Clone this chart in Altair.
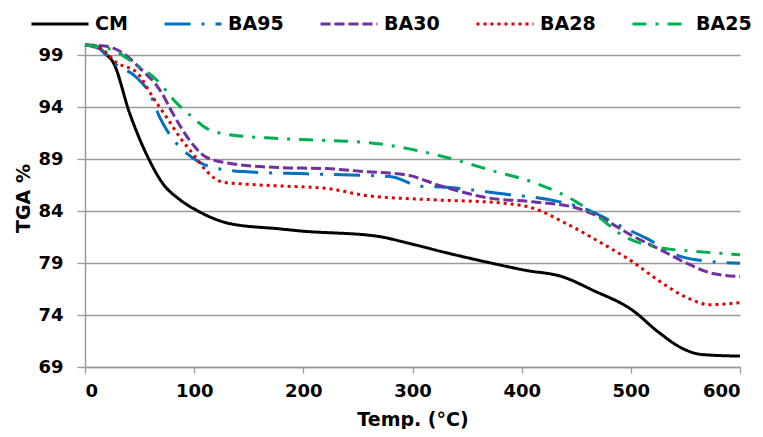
import altair as alt
import pandas as pd

series_names = ["CM", "BA95", "BA30", "BA28", "BA25"]
series_colors = ["#000000", "#0070C0", "#7030A0", "#E00000", "#00B050"]
series_dashes = [[1, 0], [26, 11, 3, 11], [10, 4], [3, 4], [14, 9, 3, 9]]

cm_x = [0, 10, 18, 26, 41, 59, 71, 87, 102, 133, 178, 197, 267, 297, 327, 368, 404, 437, 465, 501, 526, 547, 565, 600]
cm_y = [100, 99.9, 99.2, 98.3, 93.4, 88.9, 86.7, 85.1, 84.1, 82.8, 82.3, 82.1, 81.6, 80.9, 80.1, 79.1, 78.3, 77.7, 76.4, 74.5, 72.3, 70.8, 70.2, 70.05]

ba95_x = [0, 14, 26, 47, 59.5, 68.6, 75, 84, 93, 117, 148, 203, 267, 282, 307, 331, 380, 435, 459, 492, 514, 547, 569, 600]
ba95_y = [100, 99.6, 98.3, 96.9, 95.3, 93, 91.8, 90.5, 89.6, 88.2, 87.8, 87.6, 87.4, 87.3, 86.4, 86.3, 85.7, 84.9, 84.2, 82.5, 81.4, 79.6, 79.2, 79.0]

ba30_x = [0, 18, 35, 50, 69, 80.5, 96, 111, 133, 178, 221, 258, 294, 327, 368, 410, 447, 472, 502, 527, 551, 575, 600]
ba30_y = [100, 99.9, 99.2, 97.8, 95.6, 93.4, 90.8, 89.2, 88.6, 88.2, 88.1, 87.8, 87.5, 86.4, 85.3, 84.9, 84.4, 83.4, 81.6, 80.3, 79.0, 78.0, 77.7]

ba28_x = [0, 14, 29, 48, 62, 75, 87, 99, 111, 126, 148, 185, 221, 258, 319, 380, 410, 441, 472, 502, 527, 551, 572, 600]
ba28_y = [100, 99.7, 98.3, 97.3, 95, 93, 91.1, 89.5, 87.9, 86.8, 86.6, 86.4, 86.2, 85.5, 85.1, 84.8, 84.3, 82.8, 81.0, 79.1, 77.2, 75.7, 75.0, 75.2]

ba25_x = [0, 14, 26, 44, 66, 84, 99, 111, 130, 178, 221, 260, 297, 334, 373, 410, 450, 471, 492, 526, 563, 600]
ba25_y = [100, 99.8, 99.5, 98.3, 96.6, 94.4, 93.0, 92.0, 91.4, 91.0, 90.8, 90.6, 90.0, 89.1, 87.9, 86.8, 84.9, 83.4, 81.7, 80.5, 80.1, 79.8]

y_ticks = [69, 74, 79, 84, 89, 94, 99]
x_ticks = [0, 100, 200, 300, 400, 500, 600]

frames = []
for name, xs, ys in [("CM", cm_x, cm_y), ("BA95", ba95_x, ba95_y), ("BA30", ba30_x, ba30_y),
                     ("BA28", ba28_x, ba28_y), ("BA25", ba25_x, ba25_y)]:
    frames.append(pd.DataFrame({"temp": xs, "tga": ys, "series": name}))
df = pd.concat(frames, ignore_index=True)

chart = alt.Chart(df).mark_line(strokeWidth=3, interpolate="monotone", clip=False).encode(
    x=alt.X("temp:Q", scale=alt.Scale(domain=[0, 600], nice=False),
            axis=alt.Axis(values=x_ticks, title="Temp. (°C)", grid=False, tickSize=6,
                          labelPadding=9, titlePadding=10)),
    y=alt.Y("tga:Q", scale=alt.Scale(domain=[69, 100], nice=False, zero=False),
            axis=alt.Axis(values=y_ticks, title="TGA %", grid=True, tickSize=8,
                          labelPadding=14, titleX=-52, titleY=153)),
    color=alt.Color("series:N", scale=alt.Scale(domain=series_names, range=series_colors),
                    sort=series_names, title=None),
    strokeDash=alt.StrokeDash("series:N", scale=alt.Scale(domain=series_names, range=series_dashes),
                              sort=series_names, title=None),
    detail="series:N",
).properties(
    width=655, height=322,
    autosize=alt.AutoSizeParams(type="none"),
    padding={"left": 77, "top": 37, "right": 15, "bottom": 62},
).configure_view(stroke=None).configure_axis(
    domainColor="#9a9a9a", domainWidth=1.5, gridColor="#9a9a9a", gridWidth=1.3,
    tickColor="#9a9a9a", tickWidth=1.3,
    labelFont="DejaVu Sans", labelFontSize=18, labelFontWeight="bold", labelColor="#000000",
    titleFont="DejaVu Sans", titleFontSize=19, titleFontWeight="bold", titleColor="#000000",
).configure_legend(
    orient="none", legendX=-55, legendY=-51, direction="horizontal",
    symbolType="stroke", symbolSize=3249, symbolStrokeWidth=3,
    labelFont="DejaVu Sans", labelFontSize=19, labelFontWeight="bold", labelColor="#000000",
    labelOffset=5, columnPadding=30, padding=0,
)

chart.save("out.html", embed_options={"renderer": "svg", "actions": False})
